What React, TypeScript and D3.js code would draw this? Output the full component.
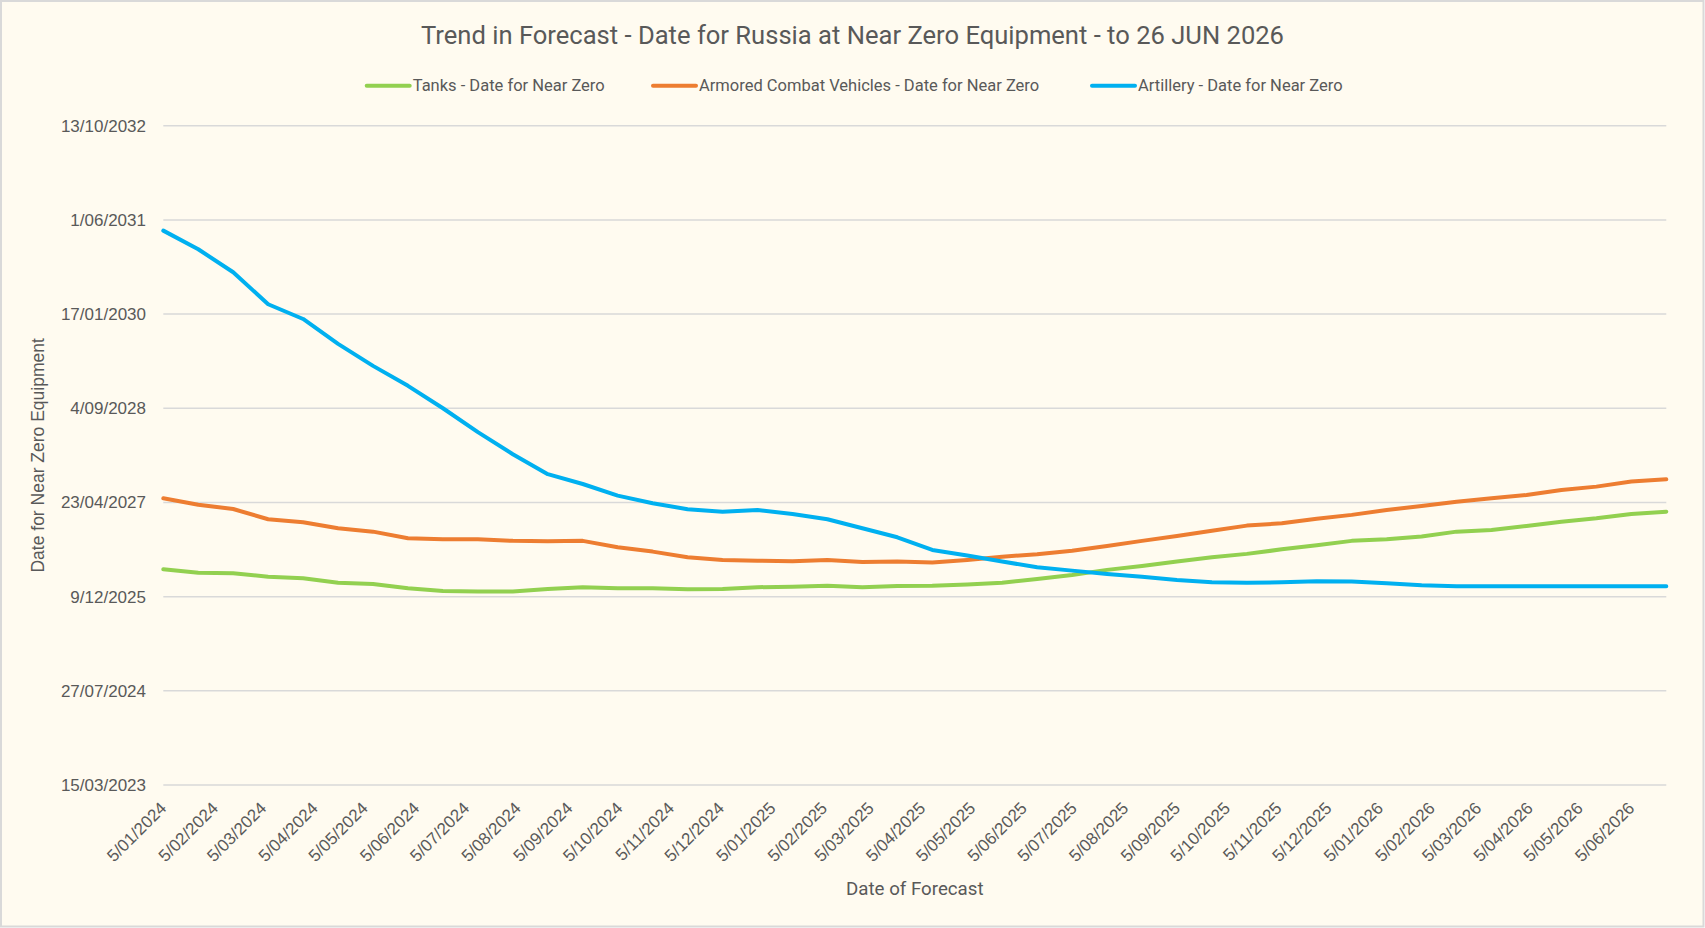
import * as React from "react";
import * as d3 from "d3";

// weekly forecast runs, sampled every 3 weeks (5 JAN 2024 .. 26 JUN 2026)
const FORECAST_START = new Date(Date.UTC(2024, 0, 5));
const FORECAST_END = new Date(Date.UTC(2026, 5, 26));
const SAMPLE_DAYS = 21;

// forecast "near zero" date, as Excel serial day numbers
const TANKS = [
  46145, 46127, 46124, 46106, 46097, 46074, 46067, 46044, 46030, 46027, 46027,
  46041, 46050, 46044, 46044, 46039, 46041, 46050, 46053, 46058, 46050, 46057,
  46058, 46065, 46074, 46094, 46115, 46142, 46163, 46186, 46209, 46227, 46251,
  46273, 46296, 46304, 46319, 46345, 46354, 46375, 46398, 46416, 46439, 46451,
];
const ACV = [
  46522, 46488, 46465, 46411, 46395, 46363, 46345, 46310, 46304, 46304, 46296,
  46294, 46296, 46262, 46239, 46209, 46195, 46191, 46188, 46195, 46184, 46186,
  46181, 46195, 46212, 46225, 46244, 46269, 46296, 46322, 46350, 46377, 46389,
  46414, 46434, 46460, 46481, 46504, 46522, 46540, 46566, 46584, 46611, 46623,
];
const ARTILLERY = [
  47943, 47844, 47722, 47552, 47474, 47342, 47225, 47119, 47000, 46873, 46756,
  46650, 46598, 46536, 46496, 46464, 46450, 46460, 46439, 46411, 46363, 46315,
  46248, 46218, 46186, 46156, 46138, 46120, 46106, 46088, 46076, 46074, 46076,
  46081, 46080, 46071, 46060, 46055, 46055, 46055, 46055, 46055, 46055, 46055,
];

const SERIES_NAMES = [
  "Tanks - Date for Near Zero",
  "Armored Combat Vehicles - Date for Near Zero",
  "Artillery - Date for Near Zero",
];
const SERIES_COLORS = ["#92D050", "#ED7D31", "#00B0F0"];
const SERIES_VALUES = [TANKS, ACV, ARTILLERY];

const Y_TICKS = [45000, 45500, 46000, 46500, 47000, 47500, 48000, 48500];

const TITLE =
  "Trend in Forecast - Date for Russia at Near Zero Equipment - to 26 JUN 2026";

const W = 1705;
const H = 928;
const TEXT = "#595959";
const GRID = "#D9D9D9";
const BG = "#FFFBF0";

const excelToDate = (serial: number) =>
  new Date(Date.UTC(1899, 11, 30) + serial * 864e5);
const fmt = d3.utcFormat("%-d/%m/%Y");

export default function App() {
  const left = 163.3;
  const right = 1666.3;
  const top = 125.7;
  const bottom = 785;

  const dates = d3.utcDay.range(
    FORECAST_START,
    d3.utcDay.offset(FORECAST_END, 1),
    SAMPLE_DAYS
  );

  const x = d3.scaleUtc().domain([FORECAST_START, FORECAST_END]).range([left, right]);
  const y = d3.scaleLinear().domain([45000, 48500]).range([bottom, top]);

  const xTicks = d3.utcMonth
    .range(new Date(Date.UTC(2024, 0, 1)), new Date(Date.UTC(2026, 6, 1)))
    .map((m) => d3.utcDay.offset(m, 4));

  const line = d3
    .line<number>()
    .x((d, i) => x(dates[i]))
    .y((d) => y(d));

  const legendX = [366.7, 653, 1092];

  return (
    <svg width={W} height={H} style={{ display: "block" }}>
      <style>{"body{margin:0}"}</style>
      <rect x={1} y={1} width={W - 2.5} height={H - 2.5} fill={BG} stroke={GRID} strokeWidth={2} />

      <text
        x={W / 2}
        y={44}
        textAnchor="middle"
        fontFamily="Roboto, sans-serif"
        fontSize={26.5}
        fill={TEXT}
        textLength={863}
        lengthAdjust="spacingAndGlyphs"
      >
        {TITLE}
      </text>

      {SERIES_NAMES.map((name, i) => (
        <g key={name} transform={`translate(${legendX[i]},85.7)`}>
          <line x1={0} x2={43} stroke={SERIES_COLORS[i]} strokeWidth={4} strokeLinecap="round" />
          <text x={46} y={5.5} fontFamily="Roboto, sans-serif" fontSize={16.5} fill={TEXT}>
            {name}
          </text>
        </g>
      ))}

      {Y_TICKS.map((t) => (
        <g key={t}>
          <line x1={left} x2={right} y1={y(t)} y2={y(t)} stroke={GRID} strokeWidth={1.5} />
          <text
            x={146}
            y={y(t)}
            dy="0.35em"
            textAnchor="end"
            fontFamily="'Liberation Sans', Arial, sans-serif"
            fontSize={17}
            fill={TEXT}
          >
            {fmt(excelToDate(t))}
          </text>
        </g>
      ))}

      {xTicks.map((t) => (
        <text
          key={t.getTime()}
          transform={`translate(${x(t)},805) rotate(-45)`}
          dy="0.35em"
          textAnchor="end"
          fontFamily="'Liberation Sans', Arial, sans-serif"
          fontSize={17}
          fill={TEXT}
        >
          {fmt(t)}
        </text>
      ))}

      {SERIES_VALUES.map((vals, i) => (
        <path
          key={SERIES_NAMES[i]}
          d={line(vals) ?? ""}
          fill="none"
          stroke={SERIES_COLORS[i]}
          strokeWidth={4}
          strokeLinejoin="round"
          strokeLinecap="round"
        />
      ))}

      <text
        x={(left + right) / 2}
        y={895}
        textAnchor="middle"
        fontFamily="Roboto, sans-serif"
        fontSize={18.7}
        fill={TEXT}
      >
        Date of Forecast
      </text>
      <text
        transform={`translate(44,${(top + bottom) / 2}) rotate(-90)`}
        textAnchor="middle"
        fontFamily="'Liberation Sans', Arial, sans-serif"
        fontSize={17.5}
        fill={TEXT}
      >
        Date for Near Zero Equipment
      </text>
    </svg>
  );
}
